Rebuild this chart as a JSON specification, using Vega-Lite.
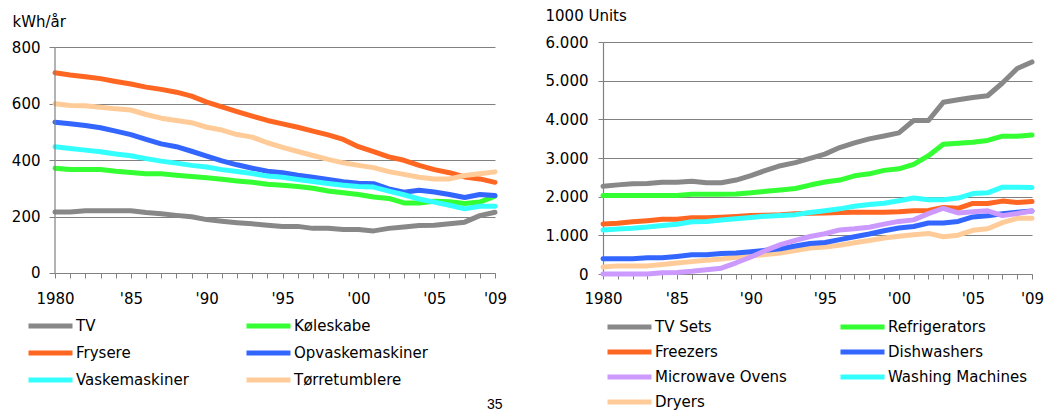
{
"$schema": "https://vega.github.io/schema/vega-lite/v6.json",
"padding": {"left": 11, "top": 8, "right": 5, "bottom": 0},
"spacing": 108,
"bounds": "flush",
"config": {
  "font": "DejaVu Sans",
  "view": {"stroke": null},
  "axis": {"domainColor": "#808080", "tickColor": "#808080", "gridColor": "#808080", "gridOpacity": 1, "domainWidth": 1.2, "labelFont": "DejaVu Sans", "labelFontSize": 15, "labelColor": "#000000", "titleFont": "DejaVu Sans", "titleFontSize": 15, "titleFontWeight": "normal", "titleColor": "#000000"},
  "legend": {"orient": "none", "direction": "horizontal", "columns": 2, "symbolType": "stroke", "symbolSize": 1936, "symbolStrokeWidth": 5, "labelFont": "DejaVu Sans", "labelFontSize": 15, "labelColor": "#000000", "labelOffset": 1, "clipHeight": 20, "title": null}
},
"datasets": {
"energy": [
{"year":1980,"series":"TV","value":216},{"year":1981,"series":"TV","value":216},{"year":1982,"series":"TV","value":220},{"year":1983,"series":"TV","value":220},{"year":1984,"series":"TV","value":220},{"year":1985,"series":"TV","value":220},{"year":1986,"series":"TV","value":214},{"year":1987,"series":"TV","value":210},{"year":1988,"series":"TV","value":204},{"year":1989,"series":"TV","value":199},{"year":1990,"series":"TV","value":189},{"year":1991,"series":"TV","value":183},{"year":1992,"series":"TV","value":178},{"year":1993,"series":"TV","value":174},{"year":1994,"series":"TV","value":169},{"year":1995,"series":"TV","value":165},{"year":1996,"series":"TV","value":165},{"year":1997,"series":"TV","value":158},{"year":1998,"series":"TV","value":158},{"year":1999,"series":"TV","value":154},{"year":2000,"series":"TV","value":154},{"year":2001,"series":"TV","value":149},{"year":2002,"series":"TV","value":158},{"year":2003,"series":"TV","value":163},{"year":2004,"series":"TV","value":168},{"year":2005,"series":"TV","value":169},{"year":2006,"series":"TV","value":174},{"year":2007,"series":"TV","value":180},{"year":2008,"series":"TV","value":203},{"year":2009,"series":"TV","value":215},
{"year":1980,"series":"Køleskabe","value":371},{"year":1981,"series":"Køleskabe","value":366},{"year":1982,"series":"Køleskabe","value":366},{"year":1983,"series":"Køleskabe","value":366},{"year":1984,"series":"Køleskabe","value":360},{"year":1985,"series":"Køleskabe","value":356},{"year":1986,"series":"Køleskabe","value":351},{"year":1987,"series":"Køleskabe","value":351},{"year":1988,"series":"Køleskabe","value":346},{"year":1989,"series":"Køleskabe","value":342},{"year":1990,"series":"Køleskabe","value":337},{"year":1991,"series":"Køleskabe","value":332},{"year":1992,"series":"Køleskabe","value":326},{"year":1993,"series":"Køleskabe","value":321},{"year":1994,"series":"Køleskabe","value":314},{"year":1995,"series":"Køleskabe","value":311},{"year":1996,"series":"Køleskabe","value":306},{"year":1997,"series":"Køleskabe","value":300},{"year":1998,"series":"Køleskabe","value":290},{"year":1999,"series":"Køleskabe","value":284},{"year":2000,"series":"Køleskabe","value":278},{"year":2001,"series":"Køleskabe","value":269},{"year":2002,"series":"Køleskabe","value":264},{"year":2003,"series":"Køleskabe","value":248},{"year":2004,"series":"Køleskabe","value":248},{"year":2005,"series":"Køleskabe","value":254},{"year":2006,"series":"Køleskabe","value":252},{"year":2007,"series":"Køleskabe","value":246},{"year":2008,"series":"Køleskabe","value":251},{"year":2009,"series":"Køleskabe","value":272},
{"year":1980,"series":"Frysere","value":709},{"year":1981,"series":"Frysere","value":701},{"year":1982,"series":"Frysere","value":695},{"year":1983,"series":"Frysere","value":688},{"year":1984,"series":"Frysere","value":678},{"year":1985,"series":"Frysere","value":669},{"year":1986,"series":"Frysere","value":658},{"year":1987,"series":"Frysere","value":650},{"year":1988,"series":"Frysere","value":640},{"year":1989,"series":"Frysere","value":626},{"year":1990,"series":"Frysere","value":605},{"year":1991,"series":"Frysere","value":588},{"year":1992,"series":"Frysere","value":571},{"year":1993,"series":"Frysere","value":555},{"year":1994,"series":"Frysere","value":540},{"year":1995,"series":"Frysere","value":528},{"year":1996,"series":"Frysere","value":516},{"year":1997,"series":"Frysere","value":502},{"year":1998,"series":"Frysere","value":489},{"year":1999,"series":"Frysere","value":473},{"year":2000,"series":"Frysere","value":447},{"year":2001,"series":"Frysere","value":430},{"year":2002,"series":"Frysere","value":411},{"year":2003,"series":"Frysere","value":399},{"year":2004,"series":"Frysere","value":381},{"year":2005,"series":"Frysere","value":366},{"year":2006,"series":"Frysere","value":355},{"year":2007,"series":"Frysere","value":340},{"year":2008,"series":"Frysere","value":333},{"year":2009,"series":"Frysere","value":321},
{"year":1980,"series":"Opvaskemaskiner","value":534},{"year":1981,"series":"Opvaskemaskiner","value":528},{"year":1982,"series":"Opvaskemaskiner","value":522},{"year":1983,"series":"Opvaskemaskiner","value":514},{"year":1984,"series":"Opvaskemaskiner","value":502},{"year":1985,"series":"Opvaskemaskiner","value":490},{"year":1986,"series":"Opvaskemaskiner","value":473},{"year":1987,"series":"Opvaskemaskiner","value":457},{"year":1988,"series":"Opvaskemaskiner","value":447},{"year":1989,"series":"Opvaskemaskiner","value":431},{"year":1990,"series":"Opvaskemaskiner","value":414},{"year":1991,"series":"Opvaskemaskiner","value":397},{"year":1992,"series":"Opvaskemaskiner","value":383},{"year":1993,"series":"Opvaskemaskiner","value":371},{"year":1994,"series":"Opvaskemaskiner","value":360},{"year":1995,"series":"Opvaskemaskiner","value":355},{"year":1996,"series":"Opvaskemaskiner","value":346},{"year":1997,"series":"Opvaskemaskiner","value":339},{"year":1998,"series":"Opvaskemaskiner","value":331},{"year":1999,"series":"Opvaskemaskiner","value":323},{"year":2000,"series":"Opvaskemaskiner","value":318},{"year":2001,"series":"Opvaskemaskiner","value":316},{"year":2002,"series":"Opvaskemaskiner","value":298},{"year":2003,"series":"Opvaskemaskiner","value":286},{"year":2004,"series":"Opvaskemaskiner","value":293},{"year":2005,"series":"Opvaskemaskiner","value":287},{"year":2006,"series":"Opvaskemaskiner","value":278},{"year":2007,"series":"Opvaskemaskiner","value":267},{"year":2008,"series":"Opvaskemaskiner","value":278},{"year":2009,"series":"Opvaskemaskiner","value":274},
{"year":1980,"series":"Vaskemaskiner","value":447},{"year":1981,"series":"Vaskemaskiner","value":441},{"year":1982,"series":"Vaskemaskiner","value":435},{"year":1983,"series":"Vaskemaskiner","value":429},{"year":1984,"series":"Vaskemaskiner","value":421},{"year":1985,"series":"Vaskemaskiner","value":415},{"year":1986,"series":"Vaskemaskiner","value":405},{"year":1987,"series":"Vaskemaskiner","value":396},{"year":1988,"series":"Vaskemaskiner","value":389},{"year":1989,"series":"Vaskemaskiner","value":381},{"year":1990,"series":"Vaskemaskiner","value":375},{"year":1991,"series":"Vaskemaskiner","value":366},{"year":1992,"series":"Vaskemaskiner","value":359},{"year":1993,"series":"Vaskemaskiner","value":352},{"year":1994,"series":"Vaskemaskiner","value":343},{"year":1995,"series":"Vaskemaskiner","value":339},{"year":1996,"series":"Vaskemaskiner","value":331},{"year":1997,"series":"Vaskemaskiner","value":324},{"year":1998,"series":"Vaskemaskiner","value":317},{"year":1999,"series":"Vaskemaskiner","value":311},{"year":2000,"series":"Vaskemaskiner","value":306},{"year":2001,"series":"Vaskemaskiner","value":304},{"year":2002,"series":"Vaskemaskiner","value":290},{"year":2003,"series":"Vaskemaskiner","value":277},{"year":2004,"series":"Vaskemaskiner","value":262},{"year":2005,"series":"Vaskemaskiner","value":251},{"year":2006,"series":"Vaskemaskiner","value":240},{"year":2007,"series":"Vaskemaskiner","value":227},{"year":2008,"series":"Vaskemaskiner","value":236},{"year":2009,"series":"Vaskemaskiner","value":236},
{"year":1980,"series":"Tørretumblere","value":599},{"year":1981,"series":"Tørretumblere","value":593},{"year":1982,"series":"Tørretumblere","value":592},{"year":1983,"series":"Tørretumblere","value":587},{"year":1984,"series":"Tørretumblere","value":581},{"year":1985,"series":"Tørretumblere","value":577},{"year":1986,"series":"Tørretumblere","value":561},{"year":1987,"series":"Tørretumblere","value":548},{"year":1988,"series":"Tørretumblere","value":540},{"year":1989,"series":"Tørretumblere","value":532},{"year":1990,"series":"Tørretumblere","value":516},{"year":1991,"series":"Tørretumblere","value":506},{"year":1992,"series":"Tørretumblere","value":490},{"year":1993,"series":"Tørretumblere","value":481},{"year":1994,"series":"Tørretumblere","value":461},{"year":1995,"series":"Tørretumblere","value":445},{"year":1996,"series":"Tørretumblere","value":430},{"year":1997,"series":"Tørretumblere","value":416},{"year":1998,"series":"Tørretumblere","value":402},{"year":1999,"series":"Tørretumblere","value":390},{"year":2000,"series":"Tørretumblere","value":381},{"year":2001,"series":"Tørretumblere","value":373},{"year":2002,"series":"Tørretumblere","value":359},{"year":2003,"series":"Tørretumblere","value":349},{"year":2004,"series":"Tørretumblere","value":339},{"year":2005,"series":"Tørretumblere","value":333},{"year":2006,"series":"Tørretumblere","value":333},{"year":2007,"series":"Tørretumblere","value":345},{"year":2008,"series":"Tørretumblere","value":351},{"year":2009,"series":"Tørretumblere","value":358}
],
"units": [
{"year":1980,"series":"TV Sets","value":2270},{"year":1981,"series":"TV Sets","value":2305},{"year":1982,"series":"TV Sets","value":2335},{"year":1983,"series":"TV Sets","value":2340},{"year":1984,"series":"TV Sets","value":2375},{"year":1985,"series":"TV Sets","value":2375},{"year":1986,"series":"TV Sets","value":2400},{"year":1987,"series":"TV Sets","value":2360},{"year":1988,"series":"TV Sets","value":2360},{"year":1989,"series":"TV Sets","value":2430},{"year":1990,"series":"TV Sets","value":2545},{"year":1991,"series":"TV Sets","value":2680},{"year":1992,"series":"TV Sets","value":2800},{"year":1993,"series":"TV Sets","value":2880},{"year":1994,"series":"TV Sets","value":2990},{"year":1995,"series":"TV Sets","value":3100},{"year":1996,"series":"TV Sets","value":3270},{"year":1997,"series":"TV Sets","value":3390},{"year":1998,"series":"TV Sets","value":3495},{"year":1999,"series":"TV Sets","value":3570},{"year":2000,"series":"TV Sets","value":3650},{"year":2001,"series":"TV Sets","value":3970},{"year":2002,"series":"TV Sets","value":3970},{"year":2003,"series":"TV Sets","value":4440},{"year":2004,"series":"TV Sets","value":4505},{"year":2005,"series":"TV Sets","value":4565},{"year":2006,"series":"TV Sets","value":4610},{"year":2007,"series":"TV Sets","value":4940},{"year":2008,"series":"TV Sets","value":5315},{"year":2009,"series":"TV Sets","value":5485},
{"year":1980,"series":"Refrigerators","value":2030},{"year":1981,"series":"Refrigerators","value":2030},{"year":1982,"series":"Refrigerators","value":2030},{"year":1983,"series":"Refrigerators","value":2030},{"year":1984,"series":"Refrigerators","value":2030},{"year":1985,"series":"Refrigerators","value":2030},{"year":1986,"series":"Refrigerators","value":2060},{"year":1987,"series":"Refrigerators","value":2060},{"year":1988,"series":"Refrigerators","value":2060},{"year":1989,"series":"Refrigerators","value":2070},{"year":1990,"series":"Refrigerators","value":2100},{"year":1991,"series":"Refrigerators","value":2140},{"year":1992,"series":"Refrigerators","value":2175},{"year":1993,"series":"Refrigerators","value":2210},{"year":1994,"series":"Refrigerators","value":2300},{"year":1995,"series":"Refrigerators","value":2380},{"year":1996,"series":"Refrigerators","value":2430},{"year":1997,"series":"Refrigerators","value":2540},{"year":1998,"series":"Refrigerators","value":2590},{"year":1999,"series":"Refrigerators","value":2680},{"year":2000,"series":"Refrigerators","value":2720},{"year":2001,"series":"Refrigerators","value":2835},{"year":2002,"series":"Refrigerators","value":3060},{"year":2003,"series":"Refrigerators","value":3355},{"year":2004,"series":"Refrigerators","value":3380},{"year":2005,"series":"Refrigerators","value":3410},{"year":2006,"series":"Refrigerators","value":3455},{"year":2007,"series":"Refrigerators","value":3565},{"year":2008,"series":"Refrigerators","value":3565},{"year":2009,"series":"Refrigerators","value":3595},
{"year":1980,"series":"Freezers","value":1295},{"year":1981,"series":"Freezers","value":1310},{"year":1982,"series":"Freezers","value":1350},{"year":1983,"series":"Freezers","value":1380},{"year":1984,"series":"Freezers","value":1415},{"year":1985,"series":"Freezers","value":1415},{"year":1986,"series":"Freezers","value":1455},{"year":1987,"series":"Freezers","value":1455},{"year":1988,"series":"Freezers","value":1470},{"year":1989,"series":"Freezers","value":1490},{"year":1990,"series":"Freezers","value":1515},{"year":1991,"series":"Freezers","value":1520},{"year":1992,"series":"Freezers","value":1535},{"year":1993,"series":"Freezers","value":1560},{"year":1994,"series":"Freezers","value":1570},{"year":1995,"series":"Freezers","value":1575},{"year":1996,"series":"Freezers","value":1590},{"year":1997,"series":"Freezers","value":1600},{"year":1998,"series":"Freezers","value":1600},{"year":1999,"series":"Freezers","value":1600},{"year":2000,"series":"Freezers","value":1610},{"year":2001,"series":"Freezers","value":1635},{"year":2002,"series":"Freezers","value":1645},{"year":2003,"series":"Freezers","value":1720},{"year":2004,"series":"Freezers","value":1700},{"year":2005,"series":"Freezers","value":1825},{"year":2006,"series":"Freezers","value":1825},{"year":2007,"series":"Freezers","value":1885},{"year":2008,"series":"Freezers","value":1850},{"year":2009,"series":"Freezers","value":1875},
{"year":1980,"series":"Dryers","value":180},{"year":1981,"series":"Dryers","value":210},{"year":1982,"series":"Dryers","value":210},{"year":1983,"series":"Dryers","value":210},{"year":1984,"series":"Dryers","value":245},{"year":1985,"series":"Dryers","value":285},{"year":1986,"series":"Dryers","value":320},{"year":1987,"series":"Dryers","value":355},{"year":1988,"series":"Dryers","value":390},{"year":1989,"series":"Dryers","value":430},{"year":1990,"series":"Dryers","value":470},{"year":1991,"series":"Dryers","value":505},{"year":1992,"series":"Dryers","value":545},{"year":1993,"series":"Dryers","value":610},{"year":1994,"series":"Dryers","value":670},{"year":1995,"series":"Dryers","value":700},{"year":1996,"series":"Dryers","value":745},{"year":1997,"series":"Dryers","value":810},{"year":1998,"series":"Dryers","value":865},{"year":1999,"series":"Dryers","value":930},{"year":2000,"series":"Dryers","value":975},{"year":2001,"series":"Dryers","value":1015},{"year":2002,"series":"Dryers","value":1050},{"year":2003,"series":"Dryers","value":965},{"year":2004,"series":"Dryers","value":1005},{"year":2005,"series":"Dryers","value":1130},{"year":2006,"series":"Dryers","value":1170},{"year":2007,"series":"Dryers","value":1330},{"year":2008,"series":"Dryers","value":1440},{"year":2009,"series":"Dryers","value":1440},
{"year":1980,"series":"Dishwashers","value":395},{"year":1981,"series":"Dishwashers","value":392},{"year":1982,"series":"Dishwashers","value":392},{"year":1983,"series":"Dishwashers","value":420},{"year":1984,"series":"Dishwashers","value":422},{"year":1985,"series":"Dishwashers","value":455},{"year":1986,"series":"Dishwashers","value":495},{"year":1987,"series":"Dishwashers","value":495},{"year":1988,"series":"Dishwashers","value":530},{"year":1989,"series":"Dishwashers","value":545},{"year":1990,"series":"Dishwashers","value":575},{"year":1991,"series":"Dishwashers","value":612},{"year":1992,"series":"Dishwashers","value":655},{"year":1993,"series":"Dishwashers","value":725},{"year":1994,"series":"Dishwashers","value":790},{"year":1995,"series":"Dishwashers","value":815},{"year":1996,"series":"Dishwashers","value":890},{"year":1997,"series":"Dishwashers","value":965},{"year":1998,"series":"Dishwashers","value":1035},{"year":1999,"series":"Dishwashers","value":1120},{"year":2000,"series":"Dishwashers","value":1190},{"year":2001,"series":"Dishwashers","value":1228},{"year":2002,"series":"Dishwashers","value":1318},{"year":2003,"series":"Dishwashers","value":1318},{"year":2004,"series":"Dishwashers","value":1360},{"year":2005,"series":"Dishwashers","value":1475},{"year":2006,"series":"Dishwashers","value":1505},{"year":2007,"series":"Dishwashers","value":1560},{"year":2008,"series":"Dishwashers","value":1598},{"year":2009,"series":"Dishwashers","value":1628},
{"year":1980,"series":"Washing Machines","value":1135},{"year":1981,"series":"Washing Machines","value":1165},{"year":1982,"series":"Washing Machines","value":1185},{"year":1983,"series":"Washing Machines","value":1215},{"year":1984,"series":"Washing Machines","value":1255},{"year":1985,"series":"Washing Machines","value":1285},{"year":1986,"series":"Washing Machines","value":1350},{"year":1987,"series":"Washing Machines","value":1360},{"year":1988,"series":"Washing Machines","value":1395},{"year":1989,"series":"Washing Machines","value":1430},{"year":1990,"series":"Washing Machines","value":1460},{"year":1991,"series":"Washing Machines","value":1495},{"year":1992,"series":"Washing Machines","value":1515},{"year":1993,"series":"Washing Machines","value":1535},{"year":1994,"series":"Washing Machines","value":1590},{"year":1995,"series":"Washing Machines","value":1635},{"year":1996,"series":"Washing Machines","value":1685},{"year":1997,"series":"Washing Machines","value":1750},{"year":1998,"series":"Washing Machines","value":1795},{"year":1999,"series":"Washing Machines","value":1830},{"year":2000,"series":"Washing Machines","value":1895},{"year":2001,"series":"Washing Machines","value":1965},{"year":2002,"series":"Washing Machines","value":1920},{"year":2003,"series":"Washing Machines","value":1920},{"year":2004,"series":"Washing Machines","value":1965},{"year":2005,"series":"Washing Machines","value":2080},{"year":2006,"series":"Washing Machines","value":2100},{"year":2007,"series":"Washing Machines","value":2245},{"year":2008,"series":"Washing Machines","value":2245},{"year":2009,"series":"Washing Machines","value":2240},
{"year":1980,"series":"Microwave Ovens","value":0},{"year":1981,"series":"Microwave Ovens","value":0},{"year":1982,"series":"Microwave Ovens","value":0},{"year":1983,"series":"Microwave Ovens","value":0},{"year":1984,"series":"Microwave Ovens","value":35},{"year":1985,"series":"Microwave Ovens","value":40},{"year":1986,"series":"Microwave Ovens","value":70},{"year":1987,"series":"Microwave Ovens","value":110},{"year":1988,"series":"Microwave Ovens","value":150},{"year":1989,"series":"Microwave Ovens","value":290},{"year":1990,"series":"Microwave Ovens","value":440},{"year":1991,"series":"Microwave Ovens","value":610},{"year":1992,"series":"Microwave Ovens","value":760},{"year":1993,"series":"Microwave Ovens","value":870},{"year":1994,"series":"Microwave Ovens","value":970},{"year":1995,"series":"Microwave Ovens","value":1040},{"year":1996,"series":"Microwave Ovens","value":1140},{"year":1997,"series":"Microwave Ovens","value":1170},{"year":1998,"series":"Microwave Ovens","value":1210},{"year":1999,"series":"Microwave Ovens","value":1290},{"year":2000,"series":"Microwave Ovens","value":1360},{"year":2001,"series":"Microwave Ovens","value":1400},{"year":2002,"series":"Microwave Ovens","value":1560},{"year":2003,"series":"Microwave Ovens","value":1700},{"year":2004,"series":"Microwave Ovens","value":1580},{"year":2005,"series":"Microwave Ovens","value":1610},{"year":2006,"series":"Microwave Ovens","value":1635},{"year":2007,"series":"Microwave Ovens","value":1510},{"year":2008,"series":"Microwave Ovens","value":1565},{"year":2009,"series":"Microwave Ovens","value":1630}
]
},
"hconcat": [
{
  "width": 440, "height": 232,
  "title": {"text": "35", "orient": "bottom", "anchor": "end", "font": "Liberation Sans", "fontSize": 14, "fontWeight": "normal", "color": "#000000", "offset": 8, "dx": -4},
  "encoding": {
    "x": {"field": "year", "type": "quantitative", "scale": {"domain": [1980, 2009], "nice": false, "zero": false},
      "axis": {"title": null, "grid": false, "offset": -1, "values": [1980,1981,1982,1983,1984,1985,1986,1987,1988,1989,1990,1991,1992,1993,1994,1995,1996,1997,1998,1999,2000,2001,2002,2003,2004,2005,2006,2007,2008,2009],
        "labelExpr": "datum.value == 1980 ? '1980' : (datum.value % 5 == 0 || datum.value == 2009) ? \"'\" + substring(toString(datum.value), 2, 4) : ''",
        "labelOverlap": false, "labelFlush": false, "tickSize": 5, "labelPadding": 13}},
    "y": {"field": "value", "type": "quantitative", "scale": {"domain": [-3.54, 817.7], "nice": false, "zero": false},
      "axis": {"values": [0, 200, 400, 600, 800], "domain": false, "tickSize": 6, "labelPadding": 9, "title": "kWh/år", "titleAngle": 0, "titleAlign": "left", "titleBaseline": "alphabetic", "titleX": -43, "titleY": -16}}
  },
  "layer": [
    {
      "data": {"name": "energy"},
      "mark": {"type": "line", "strokeWidth": 5, "strokeJoin": "round", "strokeCap": "round"},
      "encoding": {
        "color": {"field": "series", "type": "nominal",
          "scale": {"domain": ["TV", "Køleskabe", "Frysere", "Opvaskemaskiner", "Vaskemaskiner", "Tørretumblere"], "range": ["#888888", "#33ff33", "#ff6622", "#3366ff", "#33ffff", "#ffcc99"]},
          "legend": {"legendX": -29, "legendY": 274, "columnPadding": 55, "rowPadding": 7}}
      }
    },
    {
      "data": {"values": [{"year": 1980, "value": 0, "top": 800}]},
      "mark": {"type": "rule", "color": "#808080", "strokeWidth": 1.2},
      "encoding": {
        "y2": {"field": "top"}
      }
    }
  ]
},
{
  "width": 429, "height": 232,
  "data": {"name": "units"},
  "mark": {"type": "line", "strokeWidth": 5, "strokeJoin": "round", "strokeCap": "round"},
  "encoding": {
    "x": {"field": "year", "type": "quantitative", "scale": {"domain": [1980, 2009], "nice": false, "zero": false},
      "axis": {"title": null, "grid": false, "values": [1980,1981,1982,1983,1984,1985,1986,1987,1988,1989,1990,1991,1992,1993,1994,1995,1996,1997,1998,1999,2000,2001,2002,2003,2004,2005,2006,2007,2008,2009],
        "labelExpr": "datum.value == 1980 ? '1980' : (datum.value % 5 == 0 || datum.value == 2009) ? \"'\" + substring(toString(datum.value), 2, 4) : ''",
        "labelOverlap": false, "labelFlush": false, "tickSize": 5, "labelPadding": 12}},
    "y": {"field": "value", "type": "quantitative", "scale": {"domain": [0, 6000], "nice": false},
      "axis": {"values": [0, 1000, 2000, 3000, 4000, 5000, 6000], "labelExpr": "replace(format(datum.value, ','), ',', '.')", "tickSize": 5, "labelPadding": 10, "title": "1000 Units", "titleAngle": 0, "titleAlign": "left", "titleBaseline": "alphabetic", "titleX": -58, "titleY": -22}},
    "color": {"field": "series", "type": "nominal",
      "scale": {"domain": ["TV Sets", "Refrigerators", "Freezers", "Dishwashers", "Microwave Ovens", "Washing Machines", "Dryers"], "range": ["#888888", "#33ff33", "#ff6622", "#3366ff", "#cc99ff", "#33ffff", "#ffcc99"]},
      "legend": {"legendX": 2, "legendY": 275, "columnPadding": 51, "rowPadding": 5}}
  }
}
],
"resolve": {"scale": {"color": "independent"}, "legend": {"color": "independent"}}
}
